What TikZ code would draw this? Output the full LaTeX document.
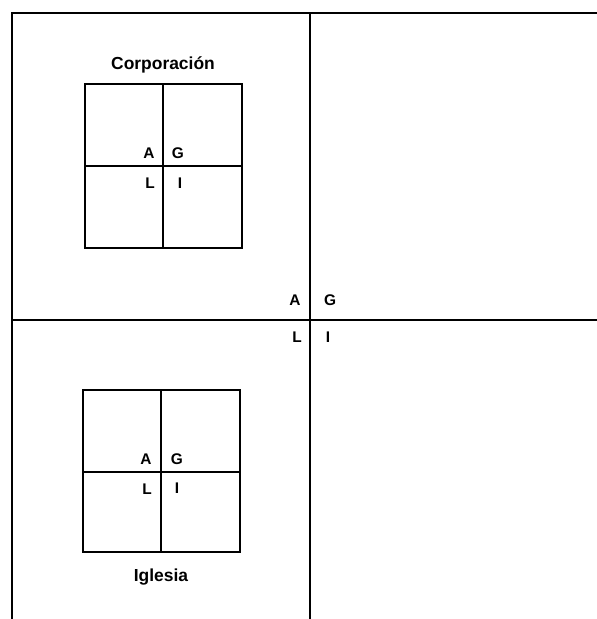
\documentclass[tikz,border=0pt]{standalone}
\usepackage{fontspec}
\setmainfont{Liberation Sans}
\begin{document}
\begin{tikzpicture}[x=1bp,y=-1bp,
  frame/.style={line width=1.4bp,black},
  boxline/.style={line width=1.8bp,black},
  lab/.style={inner sep=0pt,font=\fontsize{15.5}{17}\selectfont\bfseries},
  ttl/.style={inner sep=0pt,anchor=base,font=\fontsize{17.5}{20}\selectfont\bfseries}]
\useasboundingbox (0,0) rectangle (597,619);
% outer frame
\coordinate (TL) at (12,13);
\coordinate (TR) at (597,13);
\coordinate (BL) at (12,619);
\coordinate (VT) at (310,13);
\coordinate (VB) at (310,619);
\coordinate (HL) at (12,320);
\coordinate (HR) at (597,320);
\draw[frame] (TR) -- (TL) -- (BL);
\draw[frame] (VT) -- (VB);
\draw[frame] (HL) -- (HR);
% centre labels
\node[lab] (cA) at (295,300) {A};
\node[lab] (cG) at (330,300) {G};
\node[lab] (cL) at (297,337) {L};
\node[lab] (cI) at (328,337) {I};
% top box
\coordinate (t1) at (85,84);
\coordinate (t2) at (242,248);
\coordinate (tvT) at (163,84);
\coordinate (tvB) at (163,248);
\coordinate (thL) at (85,166);
\coordinate (thR) at (242,166);
\draw[boxline] (t1) rectangle (t2);
\draw[boxline] (tvT) -- (tvB);
\draw[boxline] (thL) -- (thR);
\node[ttl] (corp) at (163,70) {Corporación};
\node[lab] (tA) at (149,153) {A};
\node[lab] (tG) at (178,153) {G};
\node[lab] (tL) at (150,183) {L};
\node[lab] (tI) at (180,183) {I};
% bottom box
\coordinate (b1) at (83,390);
\coordinate (b2) at (240,552);
\coordinate (bvT) at (161,390);
\coordinate (bvB) at (161,552);
\coordinate (bhL) at (83,472);
\coordinate (bhR) at (240,472);
\draw[boxline] (b1) rectangle (b2);
\draw[boxline] (bvT) -- (bvB);
\draw[boxline] (bhL) -- (bhR);
\node[ttl] (igl) at (161,581) {Iglesia};
\node[lab] (bA) at (146,459) {A};
\node[lab] (bG) at (177,459) {G};
\node[lab] (bL) at (147,489) {L};
\node[lab] (bI) at (177,488) {I};
\end{tikzpicture}
\end{document}
